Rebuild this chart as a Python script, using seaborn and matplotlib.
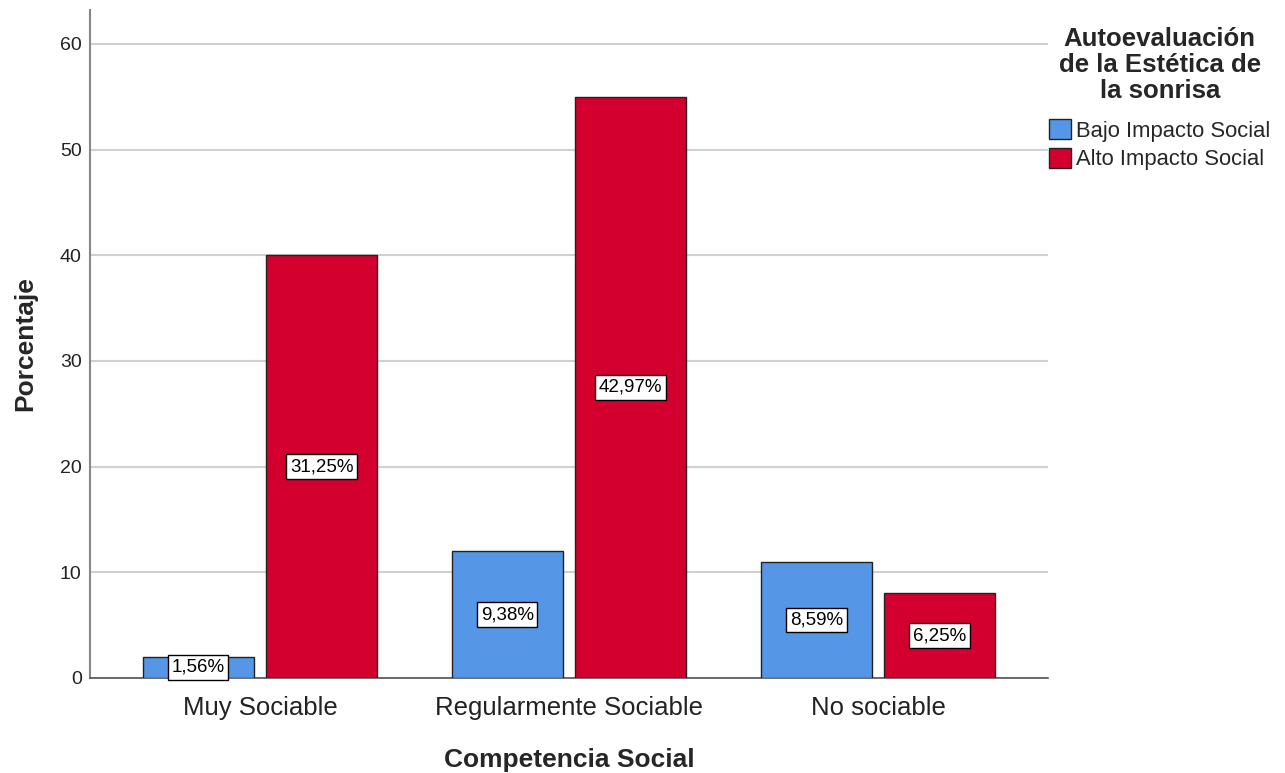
import matplotlib
matplotlib.use("Agg")
import matplotlib.pyplot as plt
import seaborn as sns
import pandas as pd

categories = ["Muy Sociable", "Regularmente Sociable", "No sociable"]
series_names = ["Bajo Impacto Social", "Alto Impacto Social"]
bajo_values = [2, 12, 11]
alto_values = [40, 55, 8]
bajo_labels = ["1,56%", "9,38%", "8,59%"]
alto_labels = ["31,25%", "42,97%", "6,25%"]
y_ticks = [0, 10, 20, 30, 40, 50, 60]

df = pd.DataFrame({
    "Competencia Social": categories * 2,
    "Serie": [series_names[0]] * 3 + [series_names[1]] * 3,
    "Porcentaje": bajo_values + alto_values,
})

sns.set_theme(style="white")
plt.rcParams["font.family"] = ["Liberation Sans", "DejaVu Sans"]

fig = plt.figure(figsize=(12.85, 7.73), dpi=100)
ax = fig.add_axes([90 / 1285, 1 - 678 / 773, (1048 - 90) / 1285, (678 - 10) / 773])

palette = {series_names[0]: "#5597E6", series_names[1]: "#D3002F"}
sns.barplot(data=df, x="Competencia Social", y="Porcentaje", hue="Serie",
            hue_order=series_names, order=categories, palette=palette,
            gap=0.1, width=0.8, edgecolor="#222222", linewidth=1.0,
            saturation=1, ax=ax, legend=True, zorder=3)

for cont, labs in zip(ax.containers, [bajo_labels, alto_labels]):
    ax.bar_label(cont, labels=labs, label_type="center", fontsize=13.5,
                 color="black", zorder=5,
                 bbox=dict(boxstyle="square,pad=0.2", facecolor="white",
                           edgecolor="black", linewidth=1.0))

ax.set_xlim(-0.55, 2.55)
ax.set_ylim(0, 63.2)
ax.set_yticks(y_ticks)
ax.set_yticklabels([str(t) for t in y_ticks], fontsize=14, color="#222222")
ax.tick_params(axis="x", labelsize=18.5, colors="#222222", length=0, pad=13)
ax.tick_params(axis="y", length=0, pad=6)
ax.yaxis.grid(True, color="#D0D0D0", linewidth=1.5, zorder=0)
ax.set_axisbelow(True)
for s in ["top", "right"]:
    ax.spines[s].set_visible(False)
ax.spines["left"].set_color("#888888")
ax.spines["left"].set_linewidth(1.5)
ax.spines["bottom"].set_color("#555555")
ax.spines["bottom"].set_linewidth(1.2)

ax.set_xlabel("Competencia Social", fontsize=19, fontweight="bold", labelpad=20)
ax.set_ylabel("Porcentaje", fontsize=19, fontweight="bold", labelpad=16)

leg = ax.legend(title="Autoevaluación\nde la Estética de\nla sonrisa",
                loc="upper left", bbox_to_anchor=(1.0 - 10 / 958, 1.0 - 6 / 668),
                frameon=False,
                fontsize=15.8, title_fontproperties={"weight": "bold", "size": 18.5},
                handlelength=1.0, handleheight=1.0, handletextpad=0.25,
                labelspacing=0.28, borderaxespad=0.1)
leg.get_title().set_multialignment("center")
leg.get_title().set_linespacing(1.1)
leg._legend_box.sep = 12
leg._legend_box.align = "center"

fig.savefig("out.png", dpi=100)
